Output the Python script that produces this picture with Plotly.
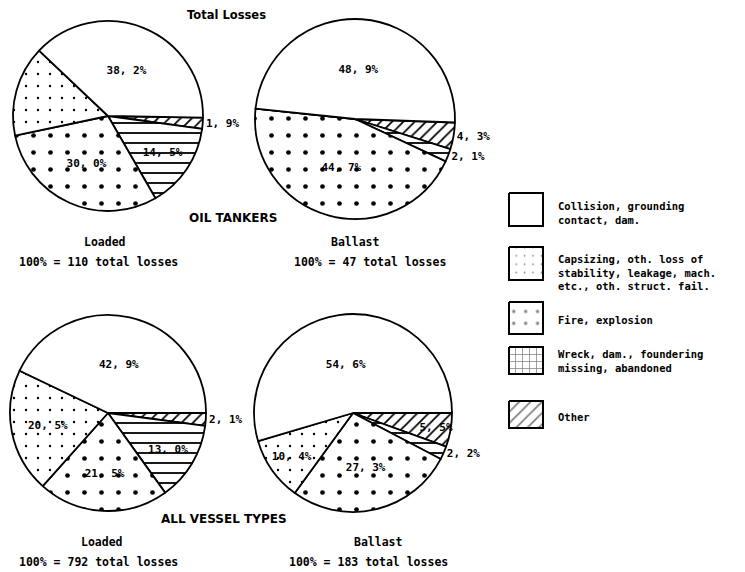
import plotly.graph_objects as go

# ---------------- data ----------------
causes = ["Collision, grounding contact, dam.",
          "Capsizing, oth. loss of stability, leakage, mach. etc., oth. struct. fail.",
          "Fire, explosion",
          "Wreck, dam., foundering missing, abandoned",
          "Other"]

oil_loaded = [38.2, 15.4, 30.0, 14.5, 1.9]
oil_ballast = [48.9, 0.0, 44.7, 2.1, 4.3]
all_loaded = [42.9, 20.5, 21.5, 13.0, 2.1]
all_ballast = [54.6, 10.4, 27.3, 2.2, 5.5]

oil_loaded_text = ["38, 2%", "", "30, 0%", "14, 5%", "1, 9%"]
oil_ballast_text = ["48, 9%", "", "44, 7%", "2, 1%", "4, 3%"]
all_loaded_text = ["42, 9%", "20, 5%", "21, 5%", "13, 0%", "2, 1%"]
all_ballast_text = ["54, 6%", "10, 4%", "27, 3%", "2, 2%", "5, 5%"]

legend_text = ["Collision, grounding<br>contact, dam.",
               "Capsizing, oth. loss of<br>stability, leakage, mach.<br>etc., oth. struct. fail.",
               "Fire, explosion",
               "Wreck, dam., foundering<br>missing, abandoned",
               "Other"]

group_titles = ["OIL TANKERS", "ALL VESSEL TYPES"]
sub_titles = ["Loaded", "Ballast", "Loaded", "Ballast"]
totals = ["100% = 110 total losses", "100% = 47 total losses",
          "100% = 792 total losses", "100% = 183 total losses"]
main_title = "Total Losses"

# ---------------- styling ----------------
PAGE_W, PAGE_H = 745, 572
OFF = 8                      # default page margin of the html body
W, H = PAGE_W - OFF, PAGE_H - OFF
MONO = "DejaVu Sans Mono"
SANS = "DejaVu Sans"

patterns = [
    dict(shape="", size=8, solidity=0.2),
    dict(shape=".", size=12, solidity=0.03),
    dict(shape=".", size=17, solidity=0.06),
    dict(shape="-", size=10, solidity=0.18),
    dict(shape="/", size=8, solidity=0.22),
]


def px_domain(cx, cy, r):
    return dict(x=[(cx - r - OFF) / W, (cx + r - OFF) / W],
                y=[(PAGE_H - cy - r) / H, (PAGE_H - cy + r) / H])


fig = go.Figure()

pies = [
    (oil_loaded, oil_loaded_text, (108, 116, 95), 91,
     ["inside", "inside", "inside", "inside", "outside"]),
    (oil_ballast, oil_ballast_text, (355, 119, 100), 92,
     ["inside", "inside", "inside", "outside", "outside"]),
    (all_loaded, all_loaded_text, (108, 413, 98), 90,
     ["inside", "inside", "inside", "inside", "outside"]),
    (all_ballast, all_ballast_text, (353, 413, 99), 90,
     ["inside", "inside", "inside", "outside", "inside"]),
]

for vals, txt, (cx, cy, r), rot, tpos in pies:
    # drawn clockwise from 3 o'clock in reverse order, so the categories
    # run counter-clockwise from 3 o'clock as in the original
    fig.add_trace(go.Pie(
        labels=causes[::-1], values=vals[::-1], text=txt[::-1], textinfo="text",
        textposition=tpos[::-1], sort=False, direction="clockwise",
        rotation=rot, domain=px_domain(cx, cy, r), automargin=False,
        marker=dict(colors=["white"] * 5,
                    line=dict(color="black", width=1.8),
                    pattern=dict(shape=[p["shape"] for p in patterns][::-1],
                                 fgcolor="black", bgcolor="white",
                                 size=[p["size"] for p in patterns][::-1],
                                 solidity=[p["solidity"] for p in patterns][::-1])),
        textfont=dict(family=MONO, size=11, color="black", weight="bold"),
        insidetextorientation="horizontal",
        showlegend=False, hoverinfo="label+percent",
    ))

# legend boxes drawn on a hidden pixel-space axis
box_y = [(193, 226), (247, 280), (302, 334), (347, 374), (401, 428)]
text_y = [213, 272, 320, 361, 417]
bx0, bx1 = 509, 543
for (y0, y1), pat, lt, ty in zip(box_y, patterns, legend_text, text_y):
    fp = dict(shape=pat["shape"], fgcolor="black", bgcolor="white",
              size=pat["size"] * 0.7 if pat["shape"] == "." else pat["size"],
              solidity=pat["solidity"])
    if pat["shape"] == "-":
        fp = dict(shape="+", fgcolor="black", bgcolor="white", size=7, solidity=0.2)
    fig.add_trace(go.Scatter(
        x=[bx0, bx1, bx1, bx0, bx0], y=[y0, y0, y1, y1, y0],
        mode="lines", fill="toself", fillcolor="white", fillpattern=fp,
        line=dict(color="black", width=2), showlegend=False, hoverinfo="skip"))
    fig.add_annotation(x=556, y=ty, xref="x", yref="y", text=lt, showarrow=False,
                       xanchor="left", yanchor="middle", align="left",
                       font=dict(family=MONO, size=10.5, color="black", weight="bold"))

# titles and captions
texts = [
    (main_title, 226, 15, SANS, 11.5),
    (group_titles[0], 233, 218, SANS, 12),
    (group_titles[1], 224, 519, SANS, 12),
    (sub_titles[0], 105, 242, MONO, 11.5),
    (sub_titles[1], 355, 242, MONO, 11.5),
    (sub_titles[2], 102, 542, MONO, 11.5),
    (sub_titles[3], 378, 542, MONO, 11.5),
    (totals[0], 98, 262, MONO, 11.5),
    (totals[1], 370, 262, MONO, 11.5),
    (totals[2], 98, 562, MONO, 11.5),
    (totals[3], 368, 562, MONO, 11.5),
]
for t, x, y, fam, sz in texts:
    fig.add_annotation(x=x, y=y, xref="x", yref="y", text=t, showarrow=False,
                       xanchor="center", yanchor="middle",
                       font=dict(family=fam, size=sz, color="black", weight="bold"))

fig.update_layout(
    width=W, height=H,
    margin=dict(l=0, r=0, t=0, b=0, autoexpand=False),
    paper_bgcolor="white", plot_bgcolor="white",
    xaxis=dict(range=[OFF, PAGE_W], visible=False, fixedrange=True, domain=[0, 1]),
    yaxis=dict(range=[PAGE_H, OFF], visible=False, fixedrange=True, domain=[0, 1]),
    uniformtext=dict(minsize=11, mode="show"),
    showlegend=False,
)

fig.write_html("out.html")
